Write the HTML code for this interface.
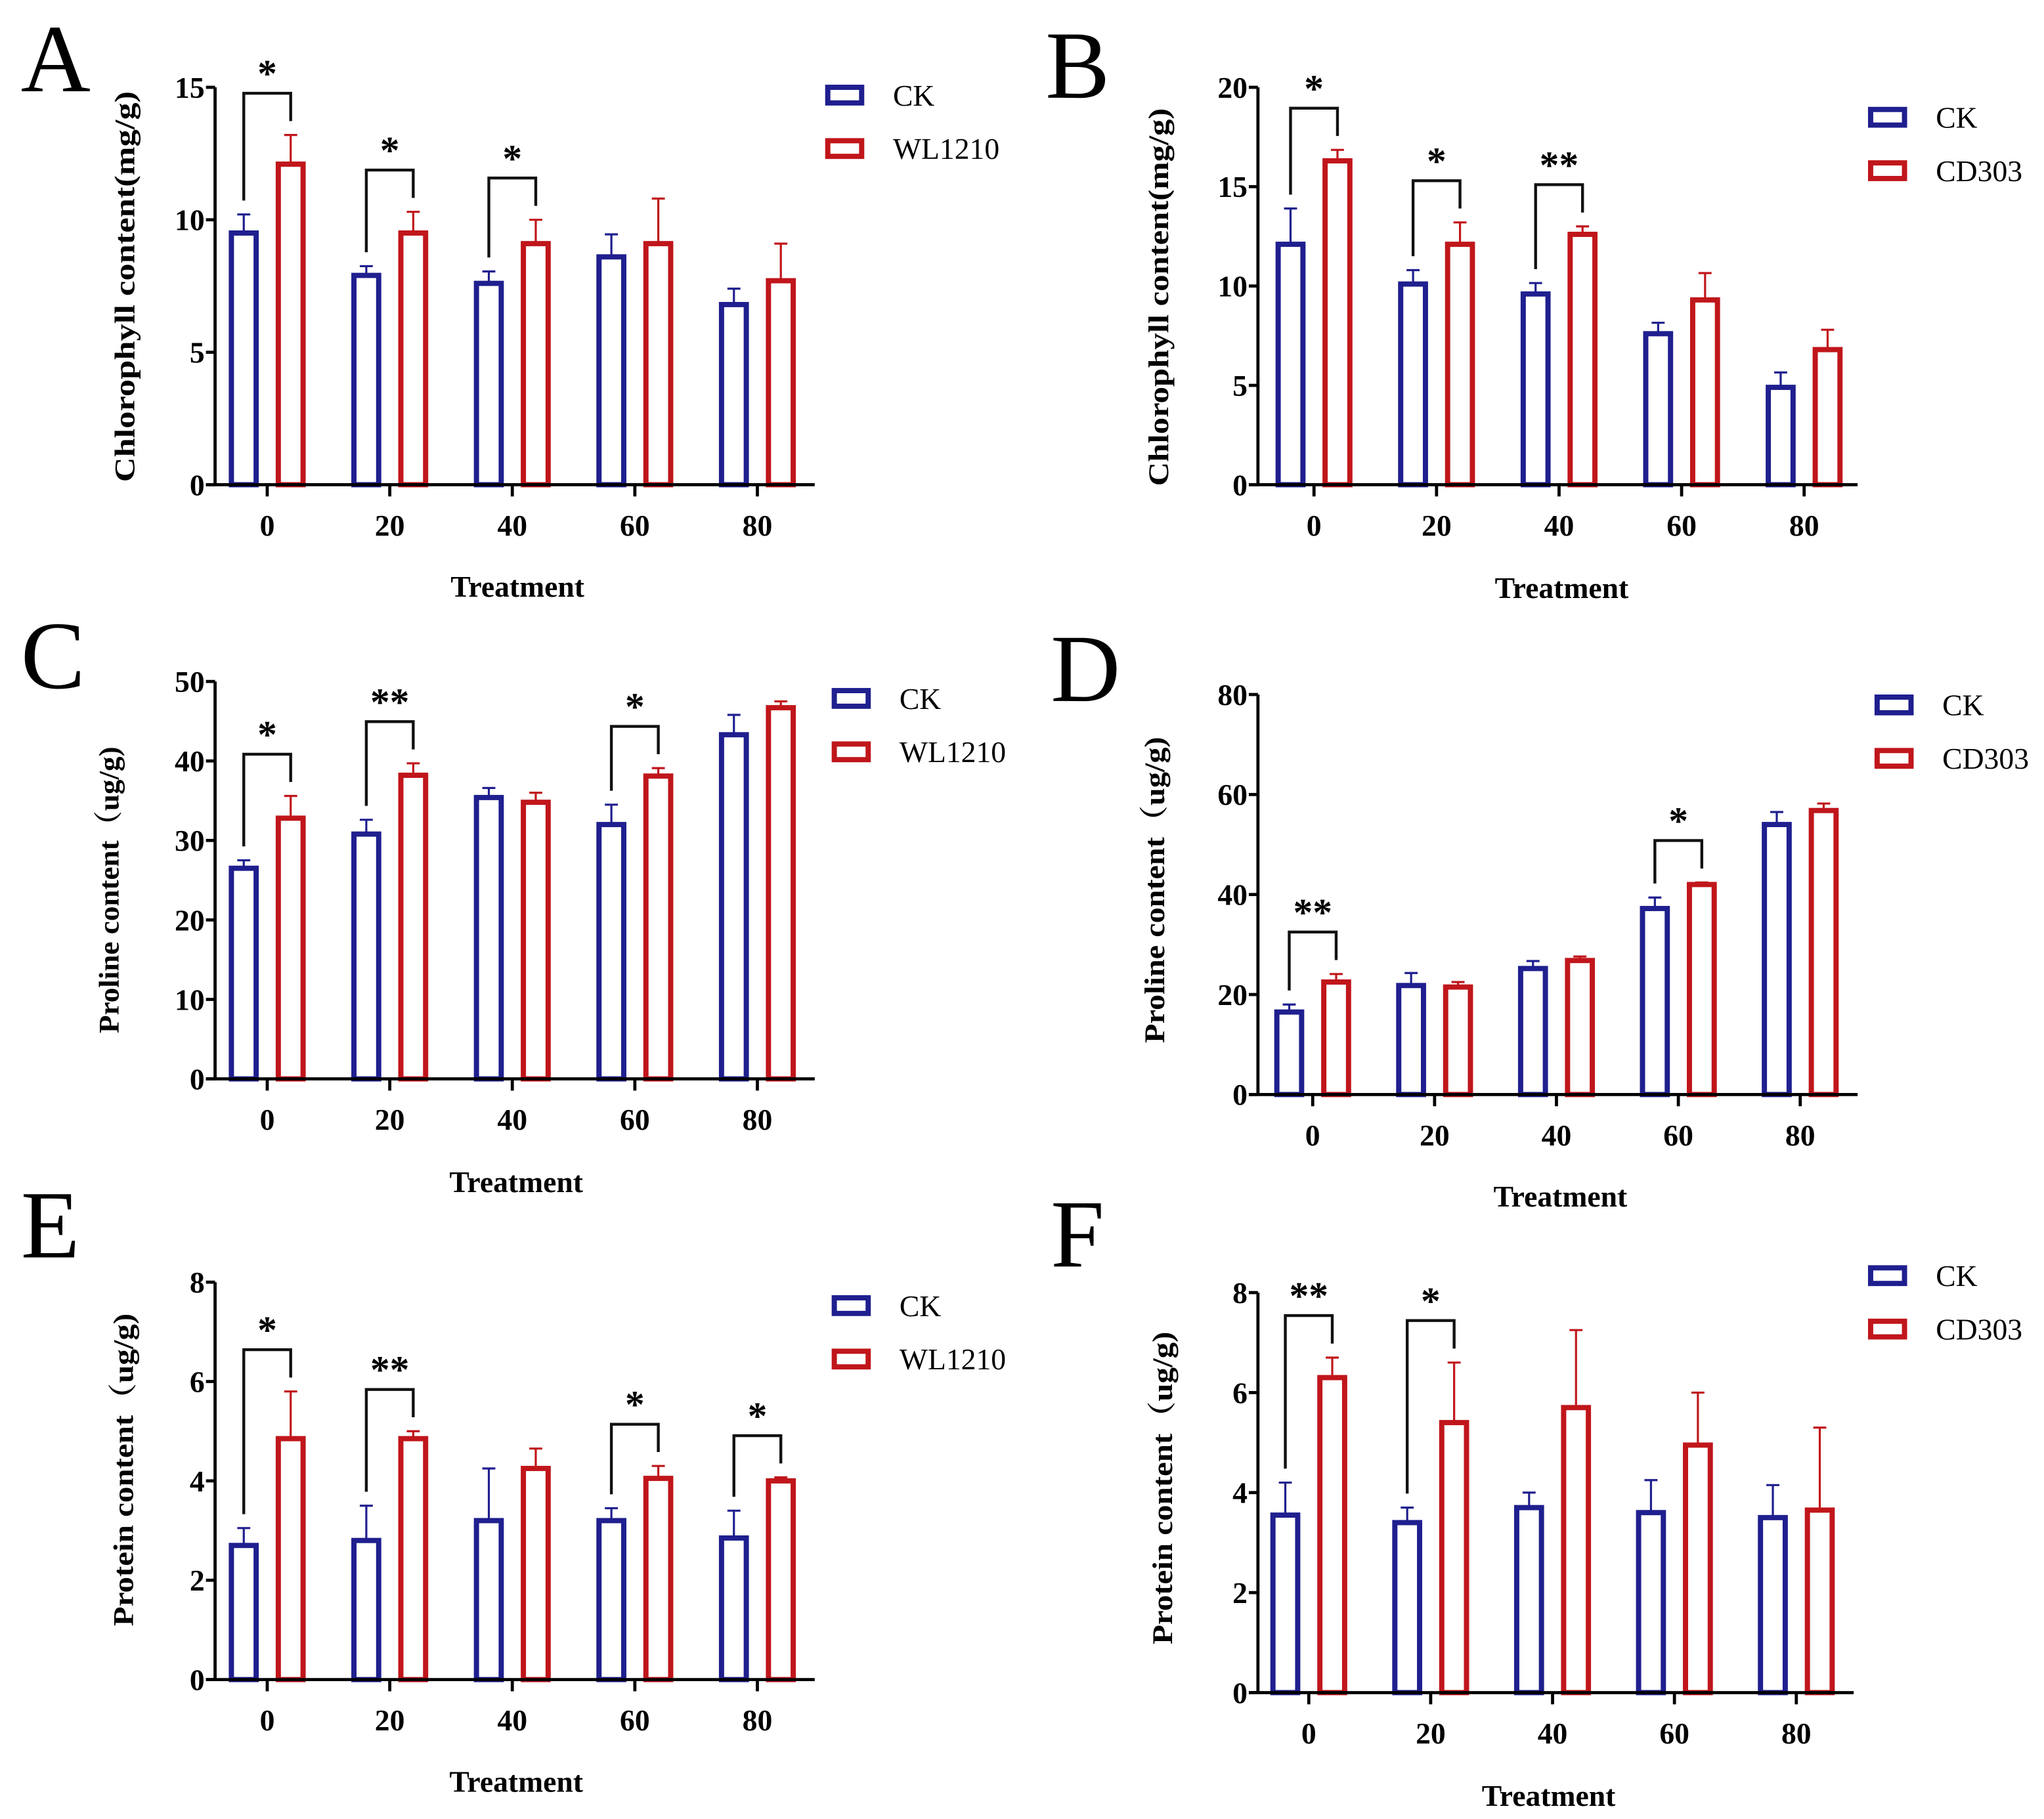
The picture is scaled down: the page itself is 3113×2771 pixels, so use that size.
<!DOCTYPE html>
<html><head><meta charset="utf-8">
<style>
html,body{margin:0;padding:0;background:#fff;}
svg{display:block;}
text{font-family:"Liberation Serif","Noto Serif CJK SC",serif;}
</style></head>
<body>
<svg id="fig" width="3113" height="2771" viewBox="0 0 1568 1396" preserveAspectRatio="none" xmlns="http://www.w3.org/2000/svg"></svg>
<script>
const categories = ["0","20","40","60","80"];
// Panel A
const aCK = [9.5,7.9,7.6,8.6,6.8];
const aCKerr = [0.7,0.35,0.45,0.85,0.6];
const aTr = [12.1,9.5,9.1,9.1,7.7];
const aTrErr = [1.1,0.8,0.9,1.7,1.4];
const aSig = ["*","*","*","",""];
const aTicks = [0,5,10,15];
// Panel B
const bCK = [12.1,10.1,9.6,7.6,4.9];
const bCKerr = [1.8,0.7,0.55,0.55,0.75];
const bTr = [16.3,12.1,12.6,9.3,6.8];
const bTrErr = [0.55,1.1,0.4,1.35,1.0];
const bSig = ["*","*","**","",""];
const bTicks = [0,5,10,15,20];
// Panel C
const cCK = [26.5,30.8,35.4,32.0,43.3];
const cCKerr = [1.0,1.8,1.2,2.5,2.5];
const cTr = [32.8,38.2,34.8,38.1,46.7];
const cTrErr = [2.8,1.5,1.2,1.0,0.8];
const cSig = ["*","**","","*",""];
const cTicks = [0,10,20,30,40,50];
// Panel D
const dCK = [16.5,21.8,25.2,37.2,54.0];
const dCKerr = [1.5,2.5,1.5,2.2,2.5];
const dTr = [22.5,21.5,26.8,42.0,56.8];
const dTrErr = [1.6,1.0,0.8,0.4,1.4];
const dSig = ["**","","","*",""];
const dTicks = [0,20,40,60,80];
// Panel E
const eCK = [2.7,2.8,3.2,3.2,2.85];
const eCKerr = [0.35,0.7,1.05,0.25,0.55];
const eTr = [4.85,4.85,4.25,4.05,4.0];
const eTrErr = [0.95,0.15,0.4,0.25,0.07];
const eSig = ["*","**","","*","*"];
const eTicks = [0,2,4,6,8];
// Panel F
const fCK = [3.55,3.4,3.7,3.6,3.5];
const fCKerr = [0.65,0.3,0.3,0.65,0.65];
const fTr = [6.3,5.4,5.7,4.95,3.65];
const fTrErr = [0.4,1.2,1.55,1.05,1.65];
const fSig = ["**","*","","",""];
const fTicks = [0,2,4,6,8];

const NS="http://www.w3.org/2000/svg";
const svg=document.getElementById('fig');
const BLUE="#1f1f8f", RED="#c0161b";
function el(tag,attrs,parent){const e=document.createElementNS(NS,tag);for(const k in attrs)e.setAttribute(k,attrs[k]);(parent||svg).appendChild(e);return e;}

function panel(p){
  const g=el('g',{});
  
  
  const max=p.ticks[p.ticks.length-1];
  const y=v=>p.y0-(v/max)*(p.y0-p.yTop);
  const x=i=>p.c0+i*p.step;
  const lt=el('text',{x:p.lx,y:p.ly,'font-size':74,fill:'#000'},g);lt.textContent=p.letter;
  
  
  const series=[[p.ck,p.ckErr,BLUE,-18],[p.tr,p.trErr,RED,18]];
  series.forEach(([vals,errs,col,off],si)=>{
    vals.forEach((v,i)=>{
      const cx=x(i)+off, w=19;
      const r=el('rect',{x:cx-w/2,y:y(v),width:w,height:p.y0-y(v),fill:'none',stroke:col,'stroke-width':4},g);
      
      
      const et=y(v+errs[i]);
      const e=el('path',{d:`M${cx} ${y(v)} V${et} M${cx-5} ${et} H${cx+5}`,stroke:col,'stroke-width':1.6,fill:'none'},g);
      
      
    });
  });
  p.sig.forEach((s,i)=>{
    if(!s)return;
    const t1=p.ck[i]+p.ckErr[i], t2=p.tr[i]+p.trErr[i];
    const top=y(Math.max(t1,t2)+0.105*max);
    const l1=y(t1+0.035*max), l2=y(t2+0.035*max);
    const xa=x(i)-18, xb=x(i)+18;
    const b=el('path',{d:`M${xa} ${l1} V${top} H${xb} V${l2}`,stroke:'#111','stroke-width':2.2,fill:'none'},g);
    
    
    const st=el('text',{x:x(i),y:top-5,'font-size':30,'font-weight':'bold','text-anchor':'middle'},g);st.textContent=s;
    
    
  });
  const ax=el('path',{d:`M${p.ax} ${p.yTop} V${p.y0} M${p.ax-7} ${p.y0} H${p.xEnd}`,stroke:'#000','stroke-width':2.4,fill:'none'},g);
  
  
  p.ticks.forEach(t=>{
    el('path',{d:`M${p.ax-7} ${y(t)} H${p.ax}`,stroke:'#000','stroke-width':2.4},g);
    const tt=el('text',{x:p.ax-8,y:y(t)+8,'font-size':23,'font-weight':'bold','text-anchor':'end'},g);tt.textContent=t;
    
    
  });
  categories.forEach((c,i)=>{
    el('path',{d:`M${x(i)} ${p.y0} V${p.y0+9}`,stroke:'#000','stroke-width':2.4},g);
    const tt=el('text',{x:x(i),y:p.y0+39,'font-size':23,'font-weight':'bold','text-anchor':'middle'},g);tt.textContent=c;
    
    
  });
  const xt=el('text',{x:p.tx,y:p.ty,'font-size':23,'font-weight':'bold','text-anchor':'middle'},g);xt.textContent='Treatment';
  
  
  const ymid=p.ymid;
  const yt=el('text',{x:p.ytx,y:ymid,'font-size':22,'font-weight':'bold','text-anchor':'middle',textLength:p.tl,lengthAdjust:'spacingAndGlyphs',transform:`rotate(-90 ${p.ytx} ${ymid})`},g);yt.textContent=p.ytitle;
  
  
  [[BLUE,'CK',p.legY],[RED,p.trName,p.legY+41]].forEach(([col,name,ly])=>{
    const r=el('rect',{x:p.legX,y:ly-6,width:26,height:12,fill:'none',stroke:col,'stroke-width':4},g);
    
    
    const tt=el('text',{x:p.legX+50,y:ly+8,'font-size':23},g);tt.textContent=name;
    
    
  });
}
panel({letter:'A',lx:16,ly:70,ax:165,yTop:67,y0:372,xEnd:625,c0:205,step:94,ticks:aTicks,ck:aCK,ckErr:aCKerr,tr:aTr,trErr:aTrErr,sig:aSig,tx:397,ty:458,ytx:103,ymid:220,tl:300,ytitle:'Chlorophyll content(mg/g)',legX:635,legY:73,trName:'WL1210'});
panel({letter:'B',lx:802,ly:75,ax:965,yTop:67,y0:372,xEnd:1425,c0:1008,step:94,ticks:bTicks,ck:bCK,ckErr:bCKerr,tr:bTr,trErr:bTrErr,sig:bSig,tx:1198,ty:459,ytx:896,ymid:228,tl:290,ytitle:'Chlorophyll content(mg/g)',legX:1435,legY:90,trName:'CD303'});
panel({letter:'C',lx:16,ly:528,ax:165,yTop:523,y0:828,xEnd:625,c0:205,step:94,ticks:cTicks,ck:cCK,ckErr:cCKerr,tr:cTr,trErr:cTrErr,sig:cSig,tx:396,ty:915,ytx:91,ymid:683,tl:220,ytitle:'Proline content（ug/g)',legX:640,legY:536,trName:'WL1210'});
panel({letter:'D',lx:806,ly:538,ax:965,yTop:533,y0:840,xEnd:1425,c0:1007,step:93.5,ticks:dTicks,ck:dCK,ckErr:dCKerr,tr:dTr,trErr:dTrErr,sig:dSig,tx:1197,ty:926,ytx:893,ymid:683,tl:235,ytitle:'Proline content（ug/g)',legX:1440,legY:541,trName:'CD303'});
panel({letter:'E',lx:16,ly:965,ax:165,yTop:984,y0:1289,xEnd:625,c0:205,step:94,ticks:eTicks,ck:eCK,ckErr:eCKerr,tr:eTr,trErr:eTrErr,sig:eSig,tx:396,ty:1375,ytx:102,ymid:1128,tl:240,ytitle:'Protein content（ug/g)',legX:640,legY:1002,trName:'WL1210'});
panel({letter:'F',lx:806,ly:972,ax:965,yTop:992,y0:1299,xEnd:1422,c0:1004,step:93.5,ticks:fTicks,ck:fCK,ckErr:fCKerr,tr:fTr,trErr:fTrErr,sig:fSig,tx:1188,ty:1386,ytx:899,ymid:1142,tl:240,ytitle:'Protein content（ug/g)',legX:1435,legY:979,trName:'CD303'});
</script>
</body></html>
